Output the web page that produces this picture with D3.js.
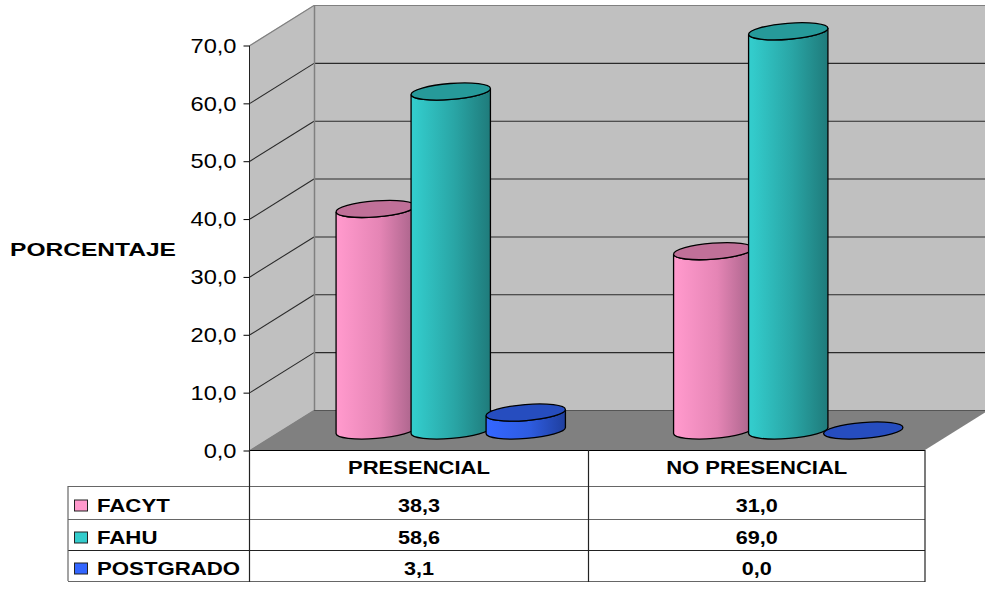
<!DOCTYPE html>
<html><head><meta charset="utf-8">
<script src="https://cdn.jsdelivr.net/npm/d3@7"></script>
<style>html,body{margin:0;padding:0;background:#fff}svg{display:block}text{font-family:"Liberation Sans",Arial,sans-serif;fill:#000}</style>
</head><body><svg id="c" width="985" height="602"></svg>
<script>
const categories = ["PRESENCIAL", "NO PRESENCIAL"];
const seriesNames = ["FACYT", "FAHU", "POSTGRADO"];
const facyt = [38.3, 31.0];
const fahu = [58.6, 69.0];
const postgrado = [3.1, 0.0];
const tickValues = [0, 10, 20, 30, 40, 50, 60, 70];
const seriesValues = [facyt, fahu, postgrado];

const baseColors = ["#FF99CC", "#33CCCC", "#3366FF"];
const sideStops = [["#FF99CC","#E585B5","#A8638A"],["#33CCCC","#29A5A5","#1F7B7B"],["#3366FF","#2E5CE0","#1F3F9E"]];
const topColors = ["#C07098", "#269A9A", "#264DBF"];

const svg = d3.select("#c");
const fmt = v => v.toFixed(1).replace(".", ",");
const W = {left:250, right:925, depthX:64, depthY:40};
const y = d3.scaleLinear().domain([0,70]).range([450,45]);
const xFront = d3.scaleBand().domain(categories).range([W.left,W.right]);
const xSeries = d3.scaleBand().domain(seriesNames).range([-112.5,112.5]);

// gradients
const defs = svg.append("defs");
sideStops.forEach((s,i)=>{
  const g = defs.append("linearGradient").attr("id","g"+i);
  g.append("stop").attr("offset","0.04").attr("stop-color",s[0]);
  g.append("stop").attr("offset","0.55").attr("stop-color",s[1]);
  g.append("stop").attr("offset","1").attr("stop-color",s[2]);
});

// walls
const top70 = y(70), b0 = y(0);
svg.append("path").attr("d",`M${W.left},${b0}L${W.left+W.depthX},${b0-W.depthY}V${top70-W.depthY}L${W.left},${top70}Z`).attr("fill","#C0C0C0");
svg.append("rect").attr("x",W.left+W.depthX).attr("y",top70-W.depthY).attr("width",985-W.left-W.depthX).attr("height",b0-top70).attr("fill","#C0C0C0");
svg.append("path").attr("d",`M${W.left},${b0}L${W.left+W.depthX},${b0-W.depthY}H985V${b0-W.depthY*60/W.depthX}L${W.right},${b0}Z`).attr("fill","#808080");

// gridlines
tickValues.forEach(t=>{
  const yy = y(t)+0.5, c = t===70 ? "#808080" : (t===0 ? "#555" : "#2a2a2a");
  svg.append("line").attr("x1",W.left).attr("y1",yy).attr("x2",W.left+W.depthX).attr("y2",yy-W.depthY).attr("stroke",t===0?"#808080":c).attr("stroke-width",1.1);
  svg.append("line").attr("x1",W.left+W.depthX).attr("y1",yy-W.depthY).attr("x2",985).attr("y2",yy-W.depthY).attr("stroke",c).attr("stroke-width",1.1);
});
svg.append("line").attr("x1",W.left+W.depthX+.5).attr("x2",W.left+W.depthX+.5).attr("y1",top70-W.depthY).attr("y2",b0-W.depthY).attr("stroke","#808080").attr("stroke-width",1.5);

// stretch text horizontally by a constant factor
function stretch(sel,k){
  sel.each(function(){
    const n = this.getComputedTextLength();
    d3.select(this).attr("textLength",n*k).attr("lengthAdjust","spacingAndGlyphs");
  });
}

// axis
const axis = d3.axisLeft(y).tickValues(tickValues).tickFormat(fmt).tickSize(6).tickPadding(7);
const ax = svg.append("g").attr("transform",`translate(${W.left-.5},0.5)`).call(axis);
ax.select(".domain").attr("stroke","#222").attr("d",`M0,${top70}V${b0}`);
ax.selectAll("line").attr("stroke","#000");
ax.selectAll("text").attr("font-size",21).call(stretch,1.126);

// cylinders
const rx = 39.8, ry = 8, tilt = -4.5, rad = tilt*Math.PI/180;
const dx = rx*Math.cos(rad), dy = rx*Math.sin(rad);
const baseCY = 430.5;
const hUnit = y(0)-y(1);
categories.forEach((cat,ci)=>{
  const cx0 = xFront(cat)+xFront.bandwidth()/2+32;
  seriesNames.forEach((s,si)=>{
    const v = seriesValues[si][ci];
    const cx = cx0 + xSeries(s) + xSeries.bandwidth()/2;
    const ty = baseCY - v*hUnit;
    const g = svg.append("g").attr("stroke","#000").attr("stroke-width",1.3);
    if (v>0) g.append("path")
      .attr("d",`M${cx-dx},${ty-dy}A${rx},${ry} ${tilt} 0 0 ${cx+dx},${ty+dy}V${baseCY+dy}A${rx},${ry} ${tilt} 0 1 ${cx-dx},${baseCY-dy}Z`)
      .attr("fill",`url(#g${si})`);
    g.append("ellipse").attr("cx",0).attr("cy",0).attr("rx",rx).attr("ry",ry)
      .attr("transform",`translate(${cx},${ty}) rotate(${tilt})`).attr("fill",topColors[si]);
  });
});

// y title
svg.append("text").attr("x",10).attr("y",256).attr("font-size",18.5).attr("font-weight","bold")
  .attr("textLength",166).attr("lengthAdjust","spacingAndGlyphs").text("PORCENTAJE");

// data table
const rowY = [450,486,519,550,581];
const colX = [68,W.left-.5,588.5,W.right];
const tl = (x1,y1,x2,y2,c)=>svg.append("line").attr("x1",x1).attr("y1",y1).attr("x2",x2).attr("y2",y2).attr("stroke",c).attr("stroke-width",1.2);
tl(W.left-.5,450.5,W.right,450.5,"#000");
rowY.slice(1).forEach((r,i)=>tl(68,r+.5,W.right,r+.5,i===2?"#222":"#666"));
tl(68,486,68,581,"#666");
tl(colX[1],450,colX[1],582,"#222");
tl(colX[2],450,colX[2],582,"#222");
tl(W.right,450,W.right,582,"#222");

const label = (txt,x,yy,k,anchor)=>svg.append("text").attr("x",x).attr("y",yy).attr("font-size",18.5).attr("font-weight","bold")
  .attr("text-anchor",anchor).text(txt).call(stretch,k);
categories.forEach((c,i)=>label(c,(colX[i+1]+colX[i+2])/2,474,1.19,"middle"));
seriesNames.forEach((s,si)=>{
  const cy = (rowY[si+1]+rowY[si+2])/2;
  svg.append("rect").attr("x",74.5).attr("y",cy-2.5).attr("width",13).attr("height",11).attr("fill",baseColors[si]).attr("stroke","#222").attr("stroke-width",1);
  label(s,97,cy+9.5,1.2,"start");
  categories.forEach((c,ci)=>label(fmt(seriesValues[si][ci]),(colX[ci+1]+colX[ci+2])/2,cy+9.5,1.167,"middle"));
});
</script></body></html>
